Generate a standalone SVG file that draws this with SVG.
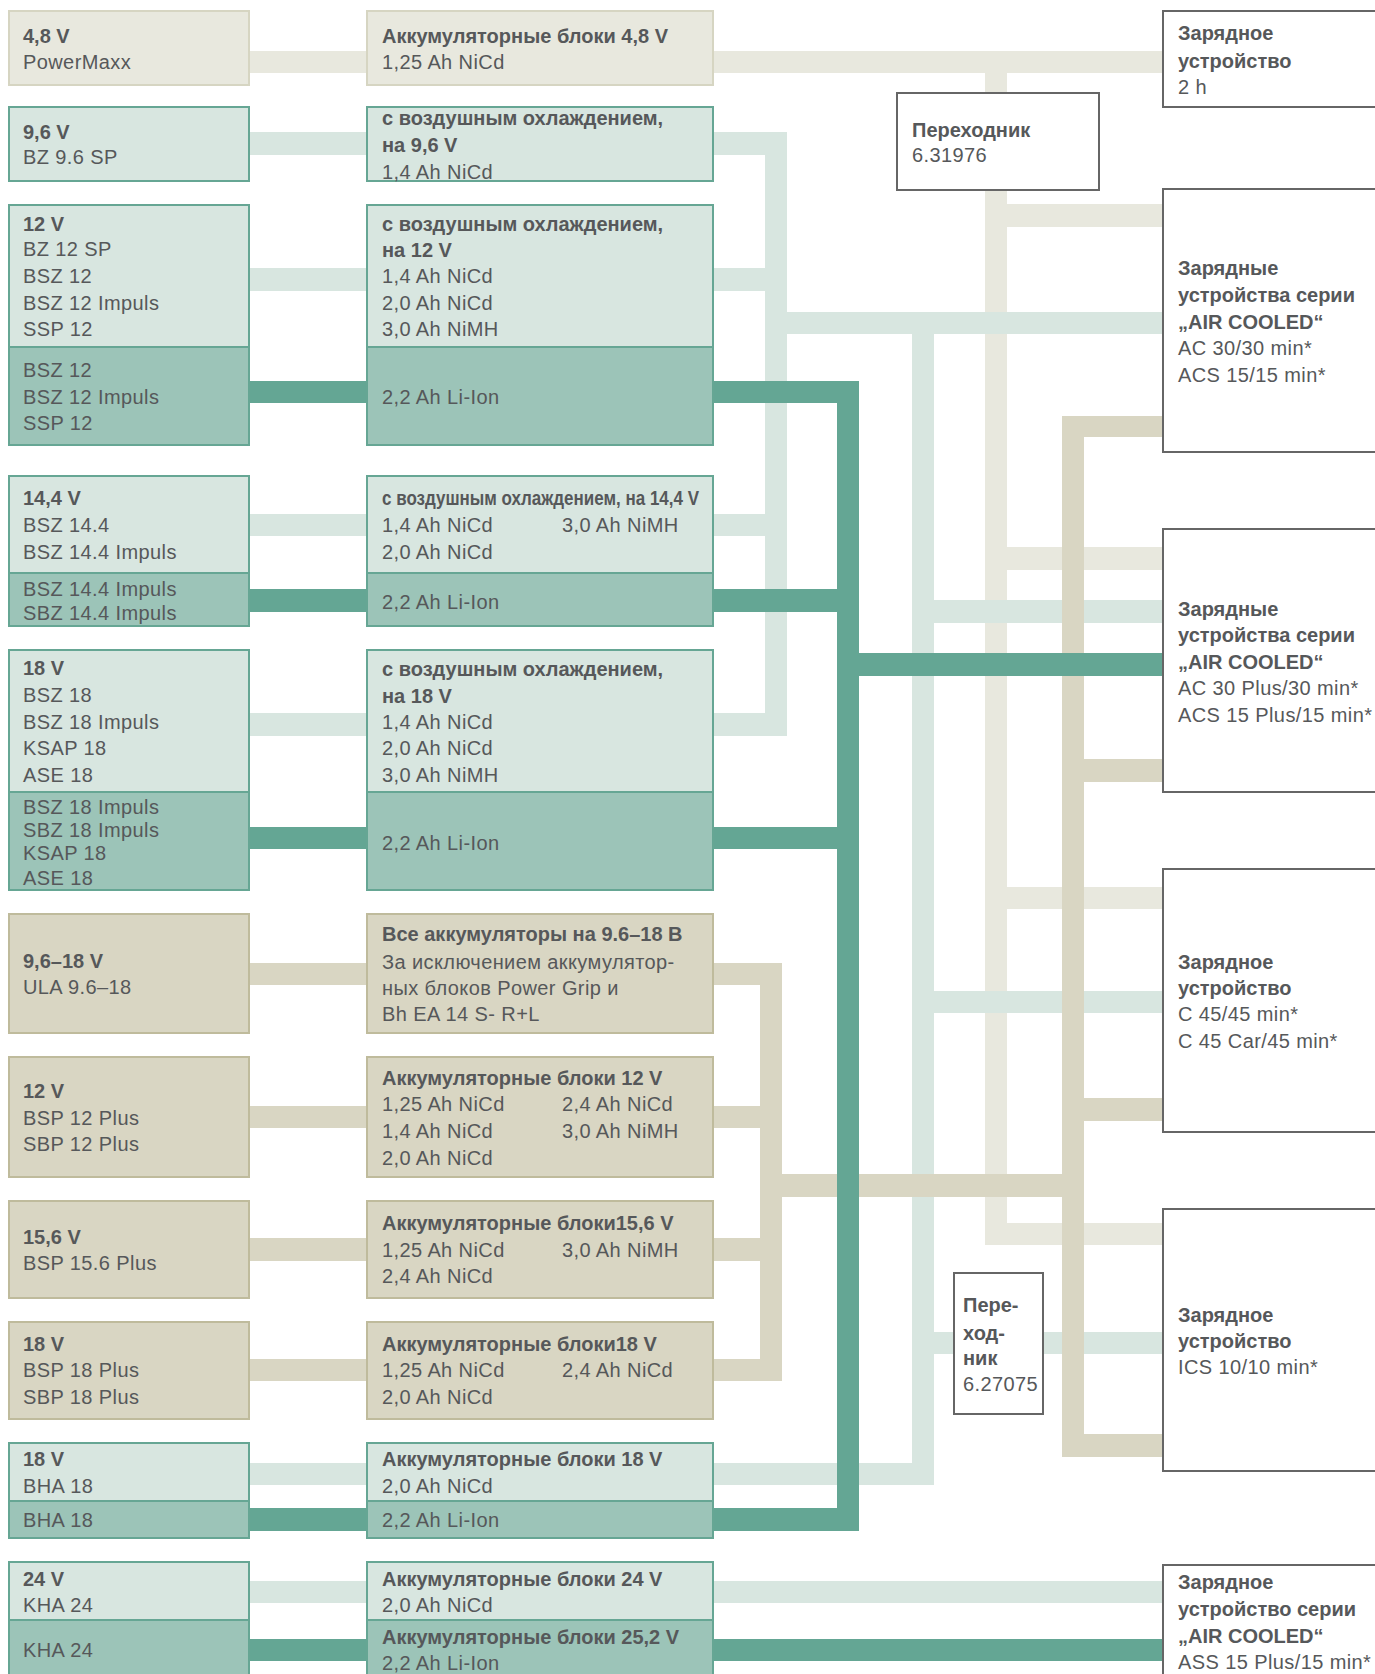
<svg xmlns="http://www.w3.org/2000/svg" width="1375" height="1674" viewBox="0 0 1375 1674">
<style>
text{font-family:"Liberation Sans",Arial,sans-serif;font-size:20px;fill:#56585a;letter-spacing:0.4px}
.b{font-weight:bold;letter-spacing:0}
.lbBox{fill:#e8e8de;stroke:#d6d5c2;stroke-width:2}
.lgBox{fill:#d8e6e0;stroke:#66a694;stroke-width:2}
.dgBox{fill:#9cc4b8;stroke:#66a694;stroke-width:2}
.dbBox{fill:#d9d6c3;stroke:#bfbb9c;stroke-width:2}
.ch{fill:#ffffff;stroke:#666666;stroke-width:2}
.lb{fill:#e8e8de}
.lg{fill:#d8e6e0}
.db{fill:#d9d6c3}
.dg{fill:#64a694}
</style>
<rect width="1375" height="1674" fill="#ffffff"/>
<g id="connectors">
<g id="conn-lightbeige">
<rect class="lb" x="249" y="51" width="914" height="22"/>
<rect class="lb" x="985" y="51" width="22" height="1194"/>
<rect class="lb" x="985" y="204" width="178" height="23"/>
<rect class="lb" x="985" y="547" width="178" height="23"/>
<rect class="lb" x="985" y="887" width="178" height="22"/>
<rect class="lb" x="985" y="1223" width="178" height="22"/>
</g>
<g id="conn-lightgreen">
<rect class="lg" x="249" y="132" width="538" height="23"/>
<rect class="lg" x="765" y="132" width="22" height="604"/>
<rect class="lg" x="249" y="268" width="538" height="23"/>
<rect class="lg" x="249" y="514" width="538" height="22"/>
<rect class="lg" x="249" y="713" width="538" height="23"/>
<rect class="lg" x="765" y="312" width="398" height="22"/>
<rect class="lg" x="912" y="312" width="22" height="1173"/>
<rect class="lg" x="912" y="600" width="251" height="23"/>
<rect class="lg" x="912" y="991" width="251" height="22"/>
<rect class="lg" x="912" y="1332" width="251" height="22"/>
<rect class="lg" x="249" y="1463" width="685" height="22"/>
<rect class="lg" x="249" y="1581" width="914" height="22"/>
</g>
<g id="conn-darkbeige">
<rect class="db" x="249" y="963" width="533" height="22"/>
<rect class="db" x="760" y="963" width="22" height="418"/>
<rect class="db" x="249" y="1106" width="533" height="22"/>
<rect class="db" x="249" y="1238" width="533" height="23"/>
<rect class="db" x="249" y="1359" width="533" height="22"/>
<rect class="db" x="760" y="1174" width="324" height="23"/>
<rect class="db" x="1062" y="416" width="22" height="1041"/>
<rect class="db" x="1062" y="416" width="101" height="21"/>
<rect class="db" x="1062" y="759" width="101" height="23"/>
<rect class="db" x="1062" y="1098" width="101" height="23"/>
<rect class="db" x="1062" y="1434" width="101" height="23"/>
</g>
<g id="conn-darkgreen">
<rect class="dg" x="249" y="381" width="610" height="22"/>
<rect class="dg" x="837" y="381" width="22" height="1150"/>
<rect class="dg" x="249" y="589" width="610" height="23"/>
<rect class="dg" x="249" y="827" width="610" height="22"/>
<rect class="dg" x="837" y="653" width="326" height="23"/>
<rect class="dg" x="249" y="1508" width="610" height="23"/>
<rect class="dg" x="249" y="1639" width="914" height="22"/>
</g>
</g>

<g id="n-48-left"><rect class="lbBox" x="9" y="11" width="240" height="74"/>
<text class="b" x="23" y="43">4,8 V</text><text x="23" y="69">PowerMaxx</text></g>
<g id="n-48-mid"><rect class="lbBox" x="367" y="11" width="346" height="74"/>
<text class="b" x="382" y="43">Аккумуляторные блоки 4,8 V</text><text x="382" y="69">1,25 Ah NiCd</text></g>

<g id="n-96-left"><rect class="lgBox" x="9" y="107" width="240" height="74"/>
<text class="b" x="23" y="139">9,6 V</text><text x="23" y="164">BZ 9.6 SP</text></g>
<g id="n-96-mid"><rect class="lgBox" x="367" y="107" width="346" height="74"/>
<text class="b" x="382" y="125">с воздушным охлаждением,</text><text class="b" x="382" y="152">на 9,6 V</text><text x="382" y="179">1,4 Ah NiCd</text></g>

<g id="n-12-left"><rect class="lgBox" x="9" y="205" width="240" height="142"/>
<text class="b" x="23" y="231">12 V</text><text x="23" y="256">BZ 12 SP</text><text x="23" y="283">BSZ 12</text><text x="23" y="310">BSZ 12 Impuls</text><text x="23" y="336">SSP 12</text>
<rect class="dgBox" x="9" y="347" width="240" height="98"/>
<text x="23" y="377">BSZ 12</text><text x="23" y="404">BSZ 12 Impuls</text><text x="23" y="430">SSP 12</text></g>
<g id="n-12-mid"><rect class="lgBox" x="367" y="205" width="346" height="142"/>
<text class="b" x="382" y="231">с воздушным охлаждением,</text><text class="b" x="382" y="257">на 12 V</text><text x="382" y="283">1,4 Ah NiCd</text><text x="382" y="310">2,0 Ah NiCd</text><text x="382" y="336">3,0 Ah NiMH</text>
<rect class="dgBox" x="367" y="347" width="346" height="98"/>
<text x="382" y="404">2,2 Ah Li-Ion</text></g>

<g id="n-144-left"><rect class="lgBox" x="9" y="476" width="240" height="97"/>
<text class="b" x="23" y="505">14,4 V</text><text x="23" y="532">BSZ 14.4</text><text x="23" y="559">BSZ 14.4 Impuls</text>
<rect class="dgBox" x="9" y="573" width="240" height="53"/>
<text x="23" y="596">BSZ 14.4 Impuls</text><text x="23" y="620">SBZ 14.4 Impuls</text></g>
<g id="n-144-mid"><rect class="lgBox" x="367" y="476" width="346" height="97"/>
<text class="b" x="382" y="505" textLength="317" lengthAdjust="spacingAndGlyphs">с воздушным охлаждением, на 14,4 V</text>
<text x="382" y="532">1,4 Ah NiCd</text><text x="562" y="532">3,0 Ah NiMH</text><text x="382" y="559">2,0 Ah NiCd</text>
<rect class="dgBox" x="367" y="573" width="346" height="53"/>
<text x="382" y="609">2,2 Ah Li-Ion</text></g>

<g id="n-18-left"><rect class="lgBox" x="9" y="650" width="240" height="142"/>
<text class="b" x="23" y="675">18 V</text><text x="23" y="702">BSZ 18</text><text x="23" y="729">BSZ 18 Impuls</text><text x="23" y="755">KSAP 18</text><text x="23" y="782">ASE 18</text>
<rect class="dgBox" x="9" y="792" width="240" height="98"/>
<text x="23" y="814">BSZ 18 Impuls</text><text x="23" y="837">SBZ 18 Impuls</text><text x="23" y="860">KSAP 18</text><text x="23" y="885">ASE 18</text></g>
<g id="n-18-mid"><rect class="lgBox" x="367" y="650" width="346" height="142"/>
<text class="b" x="382" y="676">с воздушным охлаждением,</text><text class="b" x="382" y="703">на 18 V</text><text x="382" y="729">1,4 Ah NiCd</text><text x="382" y="755">2,0 Ah NiCd</text><text x="382" y="782">3,0 Ah NiMH</text>
<rect class="dgBox" x="367" y="792" width="346" height="98"/>
<text x="382" y="850">2,2 Ah Li-Ion</text></g>

<g id="n-ula-left"><rect class="dbBox" x="9" y="914" width="240" height="119"/>
<text class="b" x="23" y="968">9,6–18 V</text><text x="23" y="994">ULA 9.6–18</text></g>
<g id="n-ula-mid"><rect class="dbBox" x="367" y="914" width="346" height="119"/>
<text class="b" x="382" y="941">Все аккумуляторы на 9.6–18 В</text><text x="382" y="969">За исключением аккумулятор-</text><text x="382" y="995">ных блоков Power Grip и</text><text x="382" y="1021">Bh EA 14 S- R+L</text></g>

<g id="n-12p-left"><rect class="dbBox" x="9" y="1057" width="240" height="120"/>
<text class="b" x="23" y="1098">12 V</text><text x="23" y="1125">BSP 12 Plus</text><text x="23" y="1151">SBP 12 Plus</text></g>
<g id="n-12p-mid"><rect class="dbBox" x="367" y="1057" width="346" height="120"/>
<text class="b" x="382" y="1085">Аккумуляторные блоки 12 V</text>
<text x="382" y="1111">1,25 Ah NiCd</text><text x="562" y="1111">2,4 Ah NiCd</text>
<text x="382" y="1138">1,4 Ah NiCd</text><text x="562" y="1138">3,0 Ah NiMH</text>
<text x="382" y="1165">2,0 Ah NiCd</text></g>

<g id="n-156-left"><rect class="dbBox" x="9" y="1201" width="240" height="97"/>
<text class="b" x="23" y="1244">15,6 V</text><text x="23" y="1270">BSP 15.6 Plus</text></g>
<g id="n-156-mid"><rect class="dbBox" x="367" y="1201" width="346" height="97"/>
<text class="b" x="382" y="1230">Аккумуляторные блоки15,6 V</text>
<text x="382" y="1257">1,25 Ah NiCd</text><text x="562" y="1257">3,0 Ah NiMH</text>
<text x="382" y="1283">2,4 Ah NiCd</text></g>

<g id="n-18p-left"><rect class="dbBox" x="9" y="1322" width="240" height="97"/>
<text class="b" x="23" y="1351">18 V</text><text x="23" y="1377">BSP 18 Plus</text><text x="23" y="1404">SBP 18 Plus</text></g>
<g id="n-18p-mid"><rect class="dbBox" x="367" y="1322" width="346" height="97"/>
<text class="b" x="382" y="1351">Аккумуляторные блоки18 V</text>
<text x="382" y="1377">1,25 Ah NiCd</text><text x="562" y="1377">2,4 Ah NiCd</text>
<text x="382" y="1404">2,0 Ah NiCd</text></g>

<g id="n-bha-left"><rect class="lgBox" x="9" y="1443" width="240" height="58"/>
<text class="b" x="23" y="1466">18 V</text><text x="23" y="1493">BHA 18</text>
<rect class="dgBox" x="9" y="1501" width="240" height="37"/>
<text x="23" y="1527">BHA 18</text></g>
<g id="n-bha-mid"><rect class="lgBox" x="367" y="1443" width="346" height="58"/>
<text class="b" x="382" y="1466">Аккумуляторные блоки 18 V</text><text x="382" y="1493">2,0 Ah NiCd</text>
<rect class="dgBox" x="367" y="1501" width="346" height="37"/>
<text x="382" y="1527">2,2 Ah Li-Ion</text></g>

<g id="n-24-left"><rect class="lgBox" x="9" y="1562" width="240" height="58"/>
<text class="b" x="23" y="1586">24 V</text><text x="23" y="1612">KHA 24</text>
<rect class="dgBox" x="9" y="1620" width="240" height="62"/>
<text x="23" y="1657">KHA 24</text></g>
<g id="n-24-mid"><rect class="lgBox" x="367" y="1562" width="346" height="58"/>
<text class="b" x="382" y="1586">Аккумуляторные блоки 24 V</text><text x="382" y="1612">2,0 Ah NiCd</text>
<rect class="dgBox" x="367" y="1620" width="346" height="62"/>
<text class="b" x="382" y="1644">Аккумуляторные блоки 25,2 V</text><text x="382" y="1670">2,2 Ah Li-Ion</text></g>

<g id="adapter-631976"><rect class="ch" x="897" y="93" width="202" height="97"/>
<text class="b" x="912" y="137">Переходник</text><text x="912" y="162">6.31976</text></g>
<g id="adapter-627075"><rect class="ch" x="954" y="1273" width="89" height="141"/>
<text class="b" x="963" y="1312">Пере-</text><text class="b" x="963" y="1340">ход-</text><text class="b" x="963" y="1365">ник</text><text x="963" y="1391">6.27075</text></g>

<g id="charger-2h"><rect class="ch" x="1163" y="11" width="240" height="96"/>
<text class="b" x="1178" y="40">Зарядное</text><text class="b" x="1178" y="68">устройство</text><text x="1178" y="94">2 h</text></g>
<g id="charger-ac30"><rect class="ch" x="1163" y="189" width="240" height="263"/>
<text class="b" x="1178" y="275">Зарядные</text><text class="b" x="1178" y="302">устройства серии</text><text class="b" x="1178" y="329">„AIR COOLED“</text><text x="1178" y="355">AC 30/30 min*</text><text x="1178" y="382">ACS 15/15 min*</text></g>
<g id="charger-ac30plus"><rect class="ch" x="1163" y="529" width="240" height="263"/>
<text class="b" x="1178" y="616">Зарядные</text><text class="b" x="1178" y="642">устройства серии</text><text class="b" x="1178" y="669">„AIR COOLED“</text><text x="1178" y="695">AC 30 Plus/30 min*</text><text x="1178" y="722">ACS 15 Plus/15 min*</text></g>
<g id="charger-c45"><rect class="ch" x="1163" y="869" width="240" height="263"/>
<text class="b" x="1178" y="969">Зарядное</text><text class="b" x="1178" y="995">устройство</text><text x="1178" y="1021">C 45/45 min*</text><text x="1178" y="1048">C 45 Car/45 min*</text></g>
<g id="charger-ics"><rect class="ch" x="1163" y="1209" width="240" height="262"/>
<text class="b" x="1178" y="1322">Зарядное</text><text class="b" x="1178" y="1348">устройство</text><text x="1178" y="1374">ICS 10/10 min*</text></g>
<g id="charger-ass"><rect class="ch" x="1163" y="1565" width="240" height="120"/>
<text class="b" x="1178" y="1589">Зарядное</text><text class="b" x="1178" y="1616">устройство серии</text><text class="b" x="1178" y="1643">„AIR COOLED“</text><text x="1178" y="1669">ASS 15 Plus/15 min*</text></g>
</svg>
